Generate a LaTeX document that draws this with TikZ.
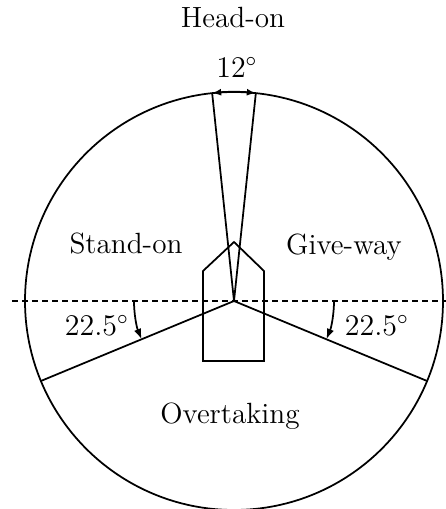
\documentclass[tikz,border=0pt]{standalone}
\usetikzlibrary{arrows.meta,calc}
\begin{document}
\begin{tikzpicture}[x=0.4pt,y=0.4pt,
  lw/.style={line width=0.7pt},
  lbl/.style={font=\fontsize{11.7}{14}\selectfont, inner sep=0pt},
  tip/.style={-{Latex[length=4.2pt,width=3pt]}}]
\useasboundingbox (0,0) rectangle (446,509);
\coordinate (O) at (234,208);
\def\R{209}
% circle
\draw[lw] (O) circle[radius=\R];
% dashed horizontal
\coordinate (dl) at (12,208);
\coordinate (dr) at (446,208);
\draw[lw, dash pattern=on 2.4pt off 1.6pt] (dl) -- (dr);
% sector lines
\draw[lw] (O) -- ++(202.5:\R) coordinate (pL);
\draw[lw] (O) -- ++(-22.5:\R) coordinate (pR);
\draw[lw] (O) -- ++(84:\R) coordinate (hR);
\draw[lw] (O) -- ++(96:\R) coordinate (hL);
% head-on arrow
\draw[lw, {Latex[length=3.6pt,width=2.8pt]}-{Latex[length=3.6pt,width=2.8pt]}] (hL) arc[start angle=96, end angle=84, radius=\R];
% ship
\draw[lw] (203,148) -- (203,238) -- (234,267) -- (264,238) -- (264,148) -- cycle;
% angle arrows
\draw[lw, tip] ($(O)+(180:100)$) arc[start angle=180, end angle=202.5, radius=100];
\draw[lw, tip] ($(O)+(0:100)$) arc[start angle=0, end angle=-22.5, radius=100];
% labels
\node[lbl] (headon) at (233,492) {Head-on};
\node[lbl] (twelve) at (237,442) {$12^\circ$};
\node[lbl] (standon) at (126,265) {Stand-on};
\node[lbl] (giveway) at (344,262) {Give-way};
\node[lbl] (overtaking) at (230,93) {Overtaking};
\node[lbl] (angL) at (97,184) {$22.5^\circ$};
\node[lbl] (angR) at (377,184) {$22.5^\circ$};
\end{tikzpicture}
\end{document}
